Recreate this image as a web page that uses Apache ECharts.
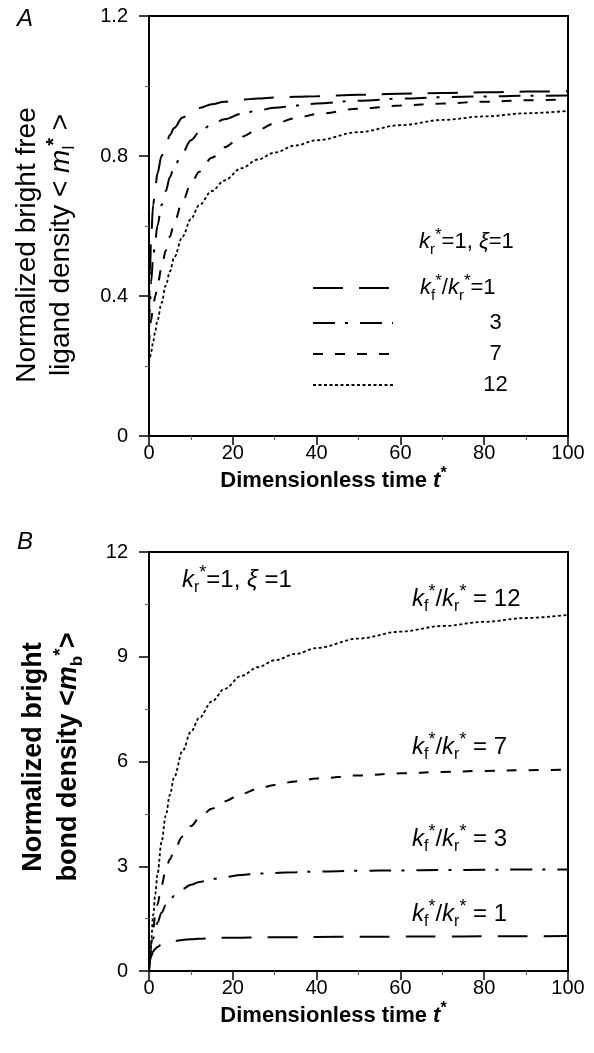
<!DOCTYPE html>
<html><head><meta charset="utf-8">
<script src="https://cdn.jsdelivr.net/npm/echarts@6/dist/echarts.min.js"></script>
<style>html,body{margin:0;padding:0;background:#fff}#c{width:594px;height:1053px}</style>
</head><body><div id="c"></div>
<script>
// ---- data ----
const tPts = [0, 0.25, 0.5, 1, 1.5, 2, 3, 4, 5, 6, 8, 10, 12, 15, 18, 22, 26, 30, 35, 40, 50, 60, 70, 80, 90, 100];
// Panel A: normalized bright free ligand density
const freeK1  = [0.33, 0.47, 0.57, 0.66, 0.71, 0.75, 0.80, 0.83, 0.86, 0.88, 0.91, 0.925, 0.937, 0.948, 0.955, 0.961, 0.964, 0.967, 0.969, 0.971, 0.975, 0.978, 0.980, 0.982, 0.984, 0.985];
const freeK3  = [0.30, 0.38, 0.44, 0.51, 0.56, 0.60, 0.66, 0.70, 0.74, 0.77, 0.81, 0.845, 0.868, 0.89, 0.905, 0.92, 0.93, 0.938, 0.944, 0.95, 0.958, 0.964, 0.968, 0.970, 0.972, 0.973];
const freeK7  = [0.26, 0.30, 0.33, 0.37, 0.40, 0.43, 0.48, 0.53, 0.57, 0.61, 0.67, 0.72, 0.755, 0.795, 0.825, 0.855, 0.875, 0.893, 0.908, 0.92, 0.935, 0.944, 0.950, 0.955, 0.959, 0.962];
const freeK12 = [0.21, 0.225, 0.24, 0.27, 0.30, 0.33, 0.38, 0.43, 0.47, 0.51, 0.57, 0.62, 0.66, 0.70, 0.73, 0.765, 0.79, 0.81, 0.83, 0.845, 0.868, 0.888, 0.903, 0.913, 0.922, 0.929];
// Panel B: normalized bright bond density
const bondK1  = [0, 0.3, 0.42, 0.56, 0.64, 0.69, 0.76, 0.80, 0.83, 0.86, 0.89, 0.91, 0.925, 0.94, 0.95, 0.955, 0.96, 0.965, 0.97, 0.975, 0.98, 0.985, 0.99, 0.993, 0.997, 1.0];
const bondK3  = [0, 0.35, 0.6, 0.92, 1.18, 1.38, 1.67, 1.88, 2.03, 2.15, 2.35, 2.47, 2.55, 2.63, 2.69, 2.75, 2.79, 2.81, 2.83, 2.85, 2.87, 2.88, 2.89, 2.9, 2.905, 2.91];
const bondK7  = [0, 0.45, 0.75, 1.2, 1.6, 1.9, 2.45, 2.9, 3.2, 3.45, 3.85, 4.15, 4.38, 4.65, 4.86, 5.07, 5.22, 5.33, 5.43, 5.51, 5.6, 5.66, 5.7, 5.73, 5.75, 5.77];
const bondK12 = [0, 0.45, 0.85, 1.6, 2.2, 2.75, 3.7, 4.45, 5.05, 5.55, 6.3, 6.85, 7.25, 7.72, 8.08, 8.45, 8.7, 8.9, 9.08, 9.25, 9.52, 9.72, 9.88, 10.0, 10.11, 10.2];
// ticks
const xTickVals = [0, 20, 40, 60, 80, 100];
const xTickLabels = ['0', '20', '40', '60', '80', '100'];
const yTickValsA = [0, 0.4, 0.8, 1.2];
const yTickLabelsA = ['0', '0.4', '0.8', '1.2'];
const yTickValsB = [0, 3, 6, 9, 12];
const yTickLabelsB = ['0', '3', '6', '9', '12'];
const ratioNames = ['1', '3', '7', '12'];

// ---- styling ----
const FONT = "'Liberation Sans', Arial, Helvetica, sans-serif";
const dashes = {
  k1: [30, 16],
  k3: [22, 10, 3, 12],
  k7: [10, 12],
  k12: [3, 2.5]
};
function lookup(vals, labels) {
  return function (v) {
    for (let i = 0; i < vals.length; i++) if (Math.abs(vals[i] - v) < 1e-6) return labels[i];
    return '';
  };
}
function makeRich(fs, lh) {
  return {
    k: {fontFamily: FONT, fontSize: fs, fontStyle: 'italic', color: '#000', lineHeight: lh},
    n: {fontFamily: FONT, fontSize: fs, color: '#000', lineHeight: lh},
    sb: {fontFamily: FONT, fontSize: Math.round(fs * 0.66), color: '#000', verticalAlign: 'bottom'},
    sp: {fontFamily: FONT, fontSize: Math.round(fs * 0.76), color: '#000', verticalAlign: 'top'},
    pad: {width: 22, lineHeight: lh},
    num: {fontFamily: FONT, fontSize: fs, color: '#000', width: 195, align: 'center', lineHeight: lh}
  };
}
const legRich = makeRich(22, 30);
const annRich = makeRich(24, 32);
const ratioText = r => '{k|k}{sb|f}{sp|*}{n|/}{k|k}{sb|r}{sp|*}{n| = ' + r + '}';

function xAxisCfg(gi) {
  return {
    type: 'value', gridIndex: gi, min: 0, max: 100, interval: 20,
    axisLine: {show: true, onZero: false, lineStyle: {color: '#000', width: 2}},
    axisTick: {show: true, inside: false, length: 9, lineStyle: {color: '#000', width: 1.5}},
    minorTick: {show: true, splitNumber: 2, length: 4, lineStyle: {color: '#666', width: 1.2}},
    axisLabel: {show: true, margin: 7, fontSize: 20, color: '#000', fontFamily: FONT,
      formatter: lookup(xTickVals, xTickLabels)},
    splitLine: {show: false}, minorSplitLine: {show: false},
    name: '{b|Dimensionless time }{bi|t}{bs|*}',
    nameLocation: 'middle', nameGap: 30, nameMoveOverlap: false,
    nameTextStyle: {padding: [0, 50, 0, 0], rich: {
      b: {fontFamily: FONT, fontSize: 22, fontWeight: 'bold', color: '#000', lineHeight: 30},
      bi: {fontFamily: FONT, fontSize: 22, fontWeight: 'bold', fontStyle: 'italic', color: '#000', lineHeight: 30},
      bs: {fontFamily: FONT, fontSize: 16, fontWeight: 'bold', color: '#000', verticalAlign: 'top'}
    }}
  };
}
function yAxisCfg(gi, max, interval, vals, labels, name, gap, pad, bold, fs, lh) {
  const fw = bold ? 'bold' : 'normal';
  return {
    type: 'value', gridIndex: gi, min: 0, max: max, interval: interval,
    axisLine: {show: true, onZero: false, lineStyle: {color: '#000', width: 2}},
    axisTick: {show: true, inside: false, length: 10, lineStyle: {color: '#000', width: 1.5}},
    minorTick: {show: true, splitNumber: 2, length: 4, lineStyle: {color: '#666', width: 1.2}},
    axisLabel: {show: true, margin: 21, fontSize: 20, color: '#000', fontFamily: FONT,
      formatter: lookup(vals, labels)},
    splitLine: {show: false}, minorSplitLine: {show: false},
    name: name, nameLocation: 'middle', nameRotate: 90, nameGap: gap, nameMoveOverlap: false,
    nameTextStyle: {padding: pad, rich: {
      n: {fontFamily: FONT, fontSize: fs, fontWeight: fw, color: '#000', lineHeight: lh},
      i: {fontFamily: FONT, fontSize: fs, fontWeight: fw, fontStyle: 'italic', color: '#000', lineHeight: lh},
      sb: {fontFamily: FONT, fontSize: Math.round(fs * 0.62), fontWeight: fw, color: '#000', verticalAlign: 'bottom'},
      sp: {fontFamily: FONT, fontSize: Math.round(fs * 0.72), fontWeight: 'bold', color: '#000', verticalAlign: 'top'}
    }}
  };
}
function mk(name, gi, vals, dash, width) {
  return {
    name: name, type: 'line', xAxisIndex: gi, yAxisIndex: gi,
    data: tPts.map((t, i) => [t, vals[i]]),
    symbol: 'none', showSymbol: false, smooth: 0.35, smoothMonotone: 'x',
    lineStyle: {color: '#000', width: width, type: dash, cap: 'butt'},
    itemStyle: {color: '#000'},
    silent: true, animation: false, z: 3
  };
}

const option = {
  animation: false,
  backgroundColor: '#fff',
  grid: [
    {left: 149, top: 16, width: 419, height: 420, show: true, borderColor: '#000', borderWidth: 2, backgroundColor: 'transparent', containLabel: false},
    {left: 149, top: 552, width: 419, height: 419, show: true, borderColor: '#000', borderWidth: 2, backgroundColor: 'transparent', containLabel: false}
  ],
  xAxis: [xAxisCfg(0), xAxisCfg(1)],
  yAxis: [
    yAxisCfg(0, 1.2, 0.4, yTickValsA, yTickLabelsA,
      '{n|Normalized bright free}\n{n|ligand density < }{i|m}{sb|l}{sp|*}{n| >}', 71, [0, 38, 0, 0], false, 28, 34),
    yAxisCfg(1, 12, 3, yTickValsB, yTickLabelsB,
      '{n|Normalized bright}\n{n|bond density <}{i|m}{sb|b}{sp|*}{n|>}', 63, [0, 0, 0, 9], true, 27, 35)
  ],
  legend: {
    show: true, data: ['A1', 'A3', 'A7', 'A12'], orient: 'vertical', left: 312, top: 273, padding: 0,
    itemWidth: 80, itemHeight: 14, itemGap: 9, selectedMode: false,
    itemStyle: {opacity: 0},
    formatter: function (name) {
      if (name === 'A1') return '{pad|}{k|k}{sb|f}{sp|*}{n|/}{k|k}{sb|r}{sp|*}{n|=' + ratioNames[0] + '}';
      const idx = ['A1', 'A3', 'A7', 'A12'].indexOf(name);
      return '{num|' + ratioNames[idx] + '}';
    },
    textStyle: {fontFamily: FONT, fontSize: 22, color: '#000', rich: legRich}
  },
  series: [
    mk('A1', 0, freeK1, dashes.k1, 2),
    mk('A3', 0, freeK3, dashes.k3, 2),
    mk('A7', 0, freeK7, dashes.k7, 2),
    mk('A12', 0, freeK12, dashes.k12, 1.8),
    mk('B1', 1, bondK1, dashes.k1, 2),
    mk('B3', 1, bondK3, dashes.k3, 2),
    mk('B7', 1, bondK7, dashes.k7, 2),
    mk('B12', 1, bondK12, dashes.k12, 1.8)
  ],
  graphic: [
    {type: 'text', x: 17, y: 19.5, style: {text: 'A', fontFamily: FONT, fontSize: 24, fontStyle: 'italic', fill: '#000', verticalAlign: 'middle'}},
    {type: 'text', x: 17, y: 542, style: {text: 'B', fontFamily: FONT, fontSize: 24, fontStyle: 'italic', fill: '#000', verticalAlign: 'middle'}},
    {type: 'text', x: 419, y: 242, style: {text: '{k|k}{sb|r}{sp|*}{n|=1, }{k|ξ}{n|=1}', rich: legRich, verticalAlign: 'middle'}},
    {type: 'text', x: 182, y: 580, style: {text: '{k|k}{sb|r}{sp|*}{n|=1, }{k|ξ}{n| =1}', rich: annRich, verticalAlign: 'middle'}},
    {type: 'text', x: 412, y: 599, style: {text: ratioText(ratioNames[3]), rich: annRich, verticalAlign: 'middle'}},
    {type: 'text', x: 412, y: 747, style: {text: ratioText(ratioNames[2]), rich: annRich, verticalAlign: 'middle'}},
    {type: 'text', x: 412, y: 839, style: {text: ratioText(ratioNames[1]), rich: annRich, verticalAlign: 'middle'}},
    {type: 'text', x: 412, y: 914, style: {text: ratioText(ratioNames[0]), rich: annRich, verticalAlign: 'middle'}}
  ]
};
const chart = echarts.init(document.getElementById('c'), null, {renderer: 'canvas', width: 594, height: 1053});
chart.setOption(option);
</script>
</body></html>
